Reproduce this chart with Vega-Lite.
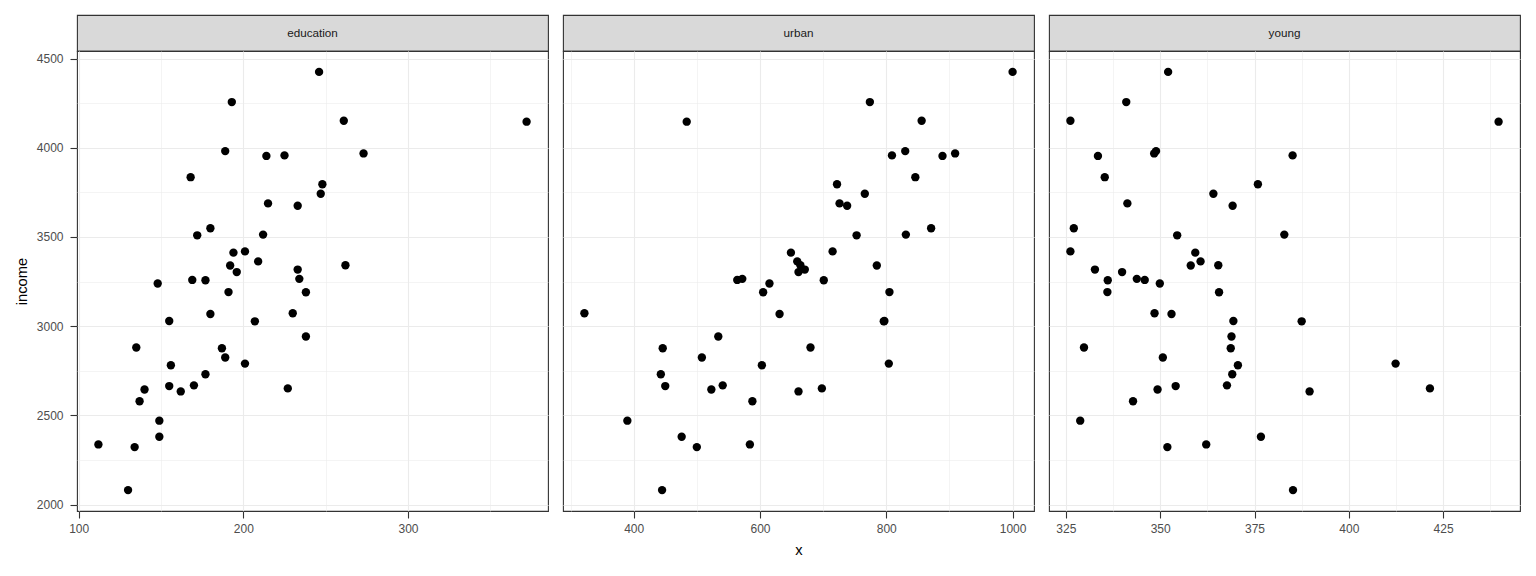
{
  "$schema": "https://vega.github.io/schema/vega-lite/v6.json",
  "padding": {"left": 14, "top": 14, "right": 10, "bottom": 5},
  "spacing": 13,
  "datasets": {
    "anscombe": [
      {"state":"ME","education":189,"income":2824,"young":350.7,"urban":508},
      {"state":"NH","education":169,"income":3259,"young":345.9,"urban":564},
      {"state":"VT","education":230,"income":3072,"young":348.5,"urban":322},
      {"state":"MA","education":168,"income":3835,"young":335.3,"urban":846},
      {"state":"RI","education":180,"income":3549,"young":327.1,"urban":871},
      {"state":"CT","education":193,"income":4256,"young":341.0,"urban":774},
      {"state":"NY","education":261,"income":4151,"young":326.2,"urban":856},
      {"state":"NJ","education":214,"income":3954,"young":333.5,"urban":889},
      {"state":"PA","education":201,"income":3419,"young":326.2,"urban":715},
      {"state":"OH","education":172,"income":3509,"young":354.5,"urban":753},
      {"state":"IN","education":194,"income":3412,"young":359.3,"urban":649},
      {"state":"IL","education":189,"income":3981,"young":348.9,"urban":830},
      {"state":"MI","education":233,"income":3675,"young":369.2,"urban":738},
      {"state":"WI","education":209,"income":3363,"young":360.7,"urban":659},
      {"state":"MN","education":262,"income":3341,"young":365.4,"urban":664},
      {"state":"IA","education":234,"income":3265,"young":343.8,"urban":572},
      {"state":"MO","education":177,"income":3257,"young":336.1,"urban":701},
      {"state":"ND","education":177,"income":2730,"young":369.1,"urban":443},
      {"state":"SD","education":187,"income":2876,"young":368.7,"urban":446},
      {"state":"NE","education":148,"income":3239,"young":349.9,"urban":615},
      {"state":"KS","education":196,"income":3303,"young":339.9,"urban":661},
      {"state":"DE","education":248,"income":3795,"young":375.9,"urban":722},
      {"state":"MD","education":247,"income":3742,"young":364.1,"urban":766},
      {"state":"DC","education":246,"income":4425,"young":352.1,"urban":1000},
      {"state":"VA","education":180,"income":3068,"young":353.0,"urban":631},
      {"state":"WV","education":149,"income":2470,"young":328.8,"urban":390},
      {"state":"NC","education":155,"income":2664,"young":354.1,"urban":450},
      {"state":"SC","education":149,"income":2380,"young":376.7,"urban":476},
      {"state":"GA","education":156,"income":2781,"young":370.6,"urban":603},
      {"state":"FL","education":191,"income":3191,"young":336.0,"urban":805},
      {"state":"KY","education":140,"income":2645,"young":349.3,"urban":523},
      {"state":"TN","education":137,"income":2579,"young":342.8,"urban":588},
      {"state":"AL","education":112,"income":2337,"young":362.2,"urban":584},
      {"state":"MS","education":130,"income":2081,"young":385.2,"urban":445},
      {"state":"AR","education":134,"income":2322,"young":351.9,"urban":500},
      {"state":"LA","education":162,"income":2634,"young":389.6,"urban":661},
      {"state":"OK","education":135,"income":2880,"young":329.8,"urban":680},
      {"state":"TX","education":155,"income":3029,"young":369.4,"urban":797},
      {"state":"MT","education":238,"income":2942,"young":368.9,"urban":534},
      {"state":"ID","education":170,"income":2668,"young":367.7,"urban":541},
      {"state":"WY","education":238,"income":3190,"young":365.6,"urban":605},
      {"state":"CO","education":192,"income":3340,"young":358.1,"urban":785},
      {"state":"NM","education":227,"income":2651,"young":421.5,"urban":698},
      {"state":"AZ","education":207,"income":3027,"young":387.5,"urban":796},
      {"state":"UT","education":201,"income":2790,"young":412.4,"urban":804},
      {"state":"NV","education":225,"income":3957,"young":385.1,"urban":809},
      {"state":"WA","education":215,"income":3688,"young":341.3,"urban":726},
      {"state":"OR","education":233,"income":3317,"young":332.7,"urban":671},
      {"state":"CA","education":273,"income":3968,"young":348.4,"urban":909},
      {"state":"AK","education":372,"income":4146,"young":439.7,"urban":484},
      {"state":"HI","education":212,"income":3513,"young":382.9,"urban":831}
    ]
  },
  "config": {
    "font": "Liberation Sans",
    "view": {"stroke": "#333333", "strokeWidth": 1.1},
    "axis": {
      "labelFont": "Liberation Sans",
      "labelFontSize": 12,
      "labelColor": "#4D4D4D",
      "labelFlush": false,
      "labelOverlap": false,
      "tickColor": "#333333",
      "tickSize": 7,
      "tickWidth": 1.1,
      "domain": false,
      "gridColor": "#EBEBEB",
      "titleFont": "Liberation Sans",
      "titleFontSize": 14.7,
      "titleFontWeight": "normal",
      "titleColor": "#000000",
      "format": "d"
    },
    "axisX": {"labelPadding": 5},
    "axisY": {"labelPadding": 7}
  },
  "hconcat": [
    {
      "bounds": "flush",
      "spacing": 0,
      "vconcat": [
        {
          "width": 471, "height": 36,
          "view": {"fill": "#D9D9D9", "stroke": "#333333", "strokeWidth": 1.1},
          "data": {"values": [{"label": "education"}]},
          "mark": {"type": "text", "fontSize": 11.7, "color": "#1A1A1A", "font": "Liberation Sans"},
          "encoding": {"text": {"field": "label"}}
        },
        {
          "width": 471, "height": 460,
          "data": {"name": "anscombe"},
          "mark": {"type": "circle", "size": 70, "opacity": 1, "color": "#000000"},
          "encoding": {
            "x": {"field": "education", "type": "quantitative",
              "scale": {"domain": [99, 385], "nice": false, "zero": false},
              "axis": {"title": null, "values": [100, 150, 200, 250, 300, 350],
                "labelExpr": "datum.value % 100 === 0 ? datum.label : ''",
                "tickOpacity": {"condition": {"test": "datum.value % 100 === 0", "value": 1}, "value": 0},
                "gridWidth": {"condition": {"test": "datum.value % 100 === 0", "value": 1.1}, "value": 0.55}}},
            "y": {"field": "income", "type": "quantitative",
              "scale": {"domain": [1963.8, 4542.2], "nice": false, "zero": false},
              "axis": {"title": "income", "titlePadding": 6.5,
                "values": [2000, 2250, 2500, 2750, 3000, 3250, 3500, 3750, 4000, 4250, 4500],
                "labelExpr": "datum.value % 500 === 0 ? datum.label : ''",
                "tickOpacity": {"condition": {"test": "datum.value % 500 === 0", "value": 1}, "value": 0},
                "gridWidth": {"condition": {"test": "datum.value % 500 === 0", "value": 1.1}, "value": 0.55}}}
          }
        }
      ]
    },
    {
      "bounds": "flush",
      "spacing": 0,
      "vconcat": [
        {
          "width": 471, "height": 36,
          "view": {"fill": "#D9D9D9", "stroke": "#333333", "strokeWidth": 1.1},
          "data": {"values": [{"label": "urban"}]},
          "mark": {"type": "text", "fontSize": 11.7, "color": "#1A1A1A", "font": "Liberation Sans"},
          "encoding": {"text": {"field": "label"}}
        },
        {
          "width": 471, "height": 460,
          "data": {"name": "anscombe"},
          "mark": {"type": "circle", "size": 70, "opacity": 1, "color": "#000000"},
          "encoding": {
            "x": {"field": "urban", "type": "quantitative",
              "scale": {"domain": [288.1, 1033.9], "nice": false, "zero": false},
              "axis": {"title": "x", "titlePadding": 8, "values": [300, 400, 500, 600, 700, 800, 900, 1000],
                "labelExpr": "datum.value % 200 === 0 ? datum.label : ''",
                "tickOpacity": {"condition": {"test": "datum.value % 200 === 0", "value": 1}, "value": 0},
                "gridWidth": {"condition": {"test": "datum.value % 200 === 0", "value": 1.1}, "value": 0.55}}},
            "y": {"field": "income", "type": "quantitative",
              "scale": {"domain": [1963.8, 4542.2], "nice": false, "zero": false},
              "axis": {"title": null, "labels": false, "ticks": false,
                "values": [2000, 2250, 2500, 2750, 3000, 3250, 3500, 3750, 4000, 4250, 4500],
                "gridWidth": {"condition": {"test": "datum.value % 500 === 0", "value": 1.1}, "value": 0.55}}}
          }
        }
      ]
    },
    {
      "bounds": "flush",
      "spacing": 0,
      "vconcat": [
        {
          "width": 471, "height": 36,
          "view": {"fill": "#D9D9D9", "stroke": "#333333", "strokeWidth": 1.1},
          "data": {"values": [{"label": "young"}]},
          "mark": {"type": "text", "fontSize": 11.7, "color": "#1A1A1A", "font": "Liberation Sans"},
          "encoding": {"text": {"field": "label"}}
        },
        {
          "width": 471, "height": 460,
          "data": {"name": "anscombe"},
          "mark": {"type": "circle", "size": 70, "opacity": 1, "color": "#000000"},
          "encoding": {
            "x": {"field": "young", "type": "quantitative",
              "scale": {"domain": [320.525, 445.375], "nice": false, "zero": false},
              "axis": {"title": null, "values": [325, 337.5, 350, 362.5, 375, 387.5, 400, 412.5, 425, 437.5],
                "labelExpr": "datum.value % 25 === 0 ? datum.label : ''",
                "tickOpacity": {"condition": {"test": "datum.value % 25 === 0", "value": 1}, "value": 0},
                "gridWidth": {"condition": {"test": "datum.value % 25 === 0", "value": 1.1}, "value": 0.55}}},
            "y": {"field": "income", "type": "quantitative",
              "scale": {"domain": [1963.8, 4542.2], "nice": false, "zero": false},
              "axis": {"title": null, "labels": false, "ticks": false,
                "values": [2000, 2250, 2500, 2750, 3000, 3250, 3500, 3750, 4000, 4250, 4500],
                "gridWidth": {"condition": {"test": "datum.value % 500 === 0", "value": 1.1}, "value": 0.55}}}
          }
        }
      ]
    }
  ]
}
